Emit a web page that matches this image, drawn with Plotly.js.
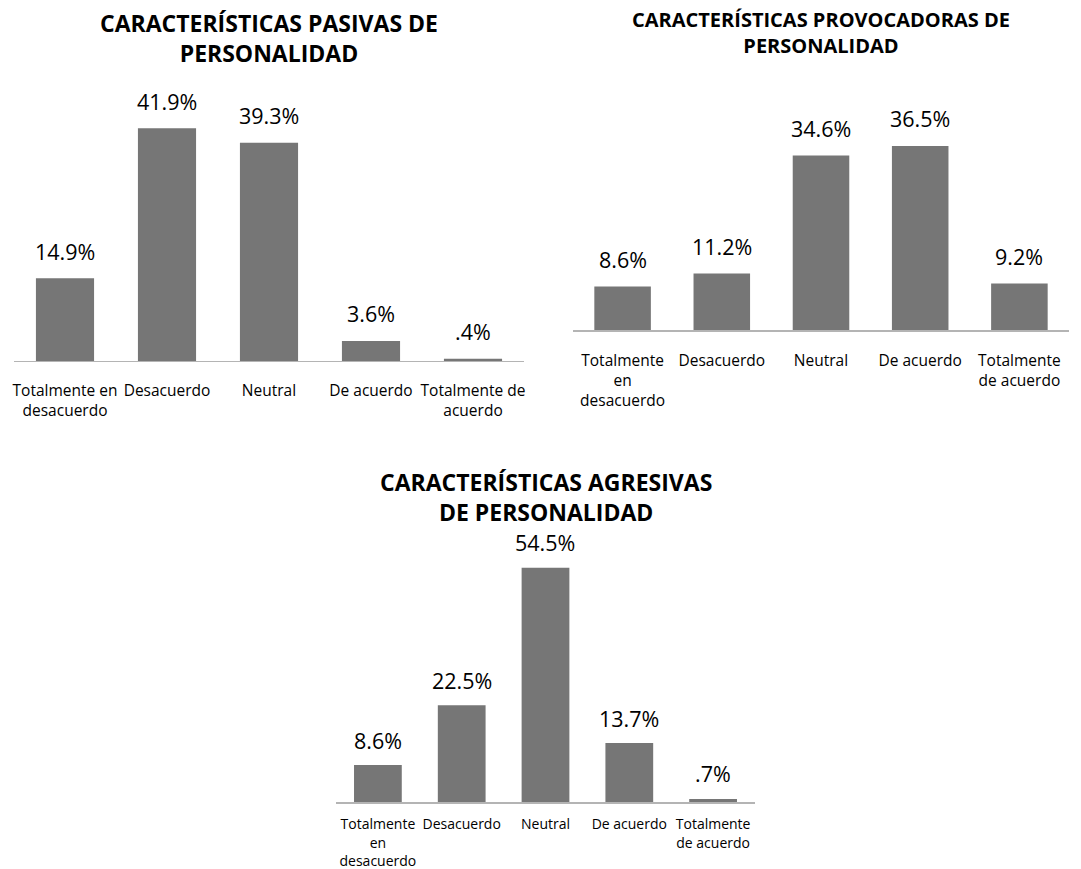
<!DOCTYPE html>
<html>
<head>
<meta charset="utf-8">
<script src="https://cdn.plot.ly/plotly-3.0.1.min.js"></script>
<style>
  html, body { margin: 0; padding: 0; background: #ffffff; }
  #chart { width: 1081px; height: 869px; }
</style>
</head>
<body>
<div id="chart"></div>
<script>
// ---- Data ----
const categories = ["Totalmente en desacuerdo", "Desacuerdo", "Neutral", "De acuerdo", "Totalmente de acuerdo"];
const pasivas = [14.9, 41.9, 39.3, 3.6, 0.4];
const provocadoras = [8.6, 11.2, 34.6, 36.5, 9.2];
const agresivas = [8.6, 22.5, 54.5, 13.7, 0.7];

const tickLabelsWide = ["Totalmente en<br>desacuerdo", "Desacuerdo", "Neutral", "De acuerdo", "Totalmente de<br>acuerdo"];
const tickLabelsNarrow = ["Totalmente<br>en<br>desacuerdo", "Desacuerdo", "Neutral", "De acuerdo", "Totalmente<br>de acuerdo"];

const titlePasivas = "CARACTERÍSTICAS PASIVAS DE<br>PERSONALIDAD";
const titleProvocadoras = "CARACTERÍSTICAS PROVOCADORAS DE<br>PERSONALIDAD";
const titleAgresivas = "CARACTERÍSTICAS AGRESIVAS<br>DE PERSONALIDAD";

// ---- Helpers ----
const FONT = "Open Sans, Noto Sans, DejaVu Sans, sans-serif";
const BAR_COLOR = "#767676";
const fmt = v => v.toFixed(1).replace(/^0/, "") + "%";

function barTrace(values, xa, ya) {
  return {
    type: "bar",
    x: categories,
    y: values,
    xaxis: xa,
    yaxis: ya,
    width: 0.57,
    marker: { color: BAR_COLOR, line: { width: 0 } },
    hoverinfo: "x+y",
    showlegend: false
  };
}

function valueLabels(values, xref, yref, size, shift) {
  return values.map((v, i) => ({
    x: categories[i],
    y: v,
    xref: xref,
    yref: yref,
    text: fmt(v),
    showarrow: false,
    yanchor: "middle",
    yshift: shift,
    font: { family: FONT, size: size, color: "#000000" }
  }));
}

function xAxis(domain, anchor, ticktext, size, standoff) {
  return {
    domain: domain,
    anchor: anchor,
    type: "category",
    tickmode: "array",
    tickvals: categories,
    ticktext: ticktext,
    tickangle: 0,
    ticks: "outside",
    ticklen: standoff,
    tickcolor: "rgba(0,0,0,0)",
    showgrid: false,
    zeroline: false,
    showline: true,
    linecolor: "#b4b4b4",
    linewidth: 1.5,
    tickfont: { family: FONT, size: size, color: "#000000" },
    fixedrange: true
  };
}

function yAxis(domain, anchor, maxv) {
  return {
    domain: domain,
    anchor: anchor,
    range: [0, maxv],
    visible: false,
    showgrid: false,
    zeroline: false,
    fixedrange: true
  };
}

function titleAnn(text, x, y, size) {
  return {
    text: "<b>" + text + "</b>",
    xref: "paper", yref: "paper",
    x: x, y: y,
    xanchor: "center", yanchor: "middle",
    showarrow: false,
    align: "center",
    font: { family: FONT, size: size, color: "#000000" }
  };
}

const data = [
  barTrace(pasivas, "x", "y"),
  barTrace(provocadoras, "x2", "y2"),
  barTrace(agresivas, "x3", "y3")
];

const annotations = [].concat(
  valueLabels(pasivas, "x", "y", 21.5, 27),
  valueLabels(provocadoras, "x2", "y2", 21.5, 27),
  valueLabels(agresivas, "x3", "y3", 21.5, 25),
  [
    titleAnn(titlePasivas, 0.2488, 0.9563, 23),
    titleAnn(titleProvocadoras, 0.7595, 0.9626, 20),
    titleAnn(titleAgresivas, 0.5051, 0.4281, 23)
  ]
);

const layout = {
  width: 1081,
  height: 869,
  margin: { l: 0, r: 0, t: 0, b: 0 },
  paper_bgcolor: "#ffffff",
  plot_bgcolor: "#ffffff",
  showlegend: false,
  bargap: 0.43,
  font: { family: FONT, color: "#000000" },
  xaxis: xAxis([0.01295, 0.48474], "y", tickLabelsWide, 15.5, 15),
  yaxis: yAxis([0.58458, 0.87227], "x", 45),
  xaxis2: xAxis([0.53006, 0.98890], "y2", tickLabelsNarrow, 15.5, 16),
  yaxis2: yAxis([0.62025, 0.88147], "x2", 45),
  xaxis3: xAxis([0.31082, 0.69843], "y3", tickLabelsNarrow, 14, 9),
  yaxis3: yAxis([0.07710, 0.37399], "x3", 60),
  annotations: annotations
};

Plotly.newPlot("chart", data, layout, { displayModeBar: false, staticPlot: true });
</script>
</body>
</html>
